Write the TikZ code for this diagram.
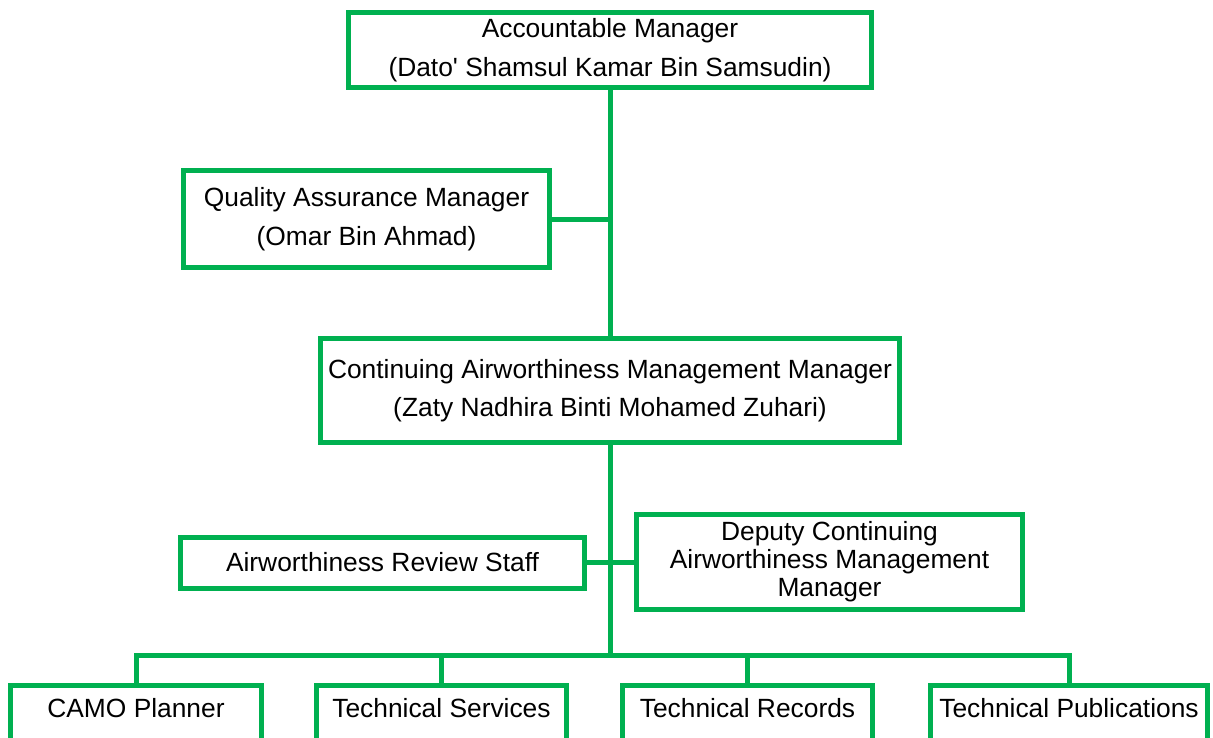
\documentclass[tikz,border=0pt]{standalone}
\usepackage{fontspec}
\setmainfont{Liberation Sans}
\definecolor{orggreen}{RGB}{0,176,80}
\tikzset{
    box/.style={draw=orggreen, line width=0.1cm, fill=white, align=center, inner sep=0.1cm, font=\fontsize{15}{18}\selectfont},
    link/.style={draw=orggreen, line width=0.1cm},
    unitbox/.style={box, anchor=north, text height=0.49cm, text depth=1cm, inner ysep=0.14cm}
}
\begin{document}
\begin{tikzpicture}[x=0.02cm, y=-0.02cm]
        \useasboundingbox (0,0) rectangle (1213,737);
        \clip (0,0) rectangle (1213,737);
        % management line
        \node[box, minimum width=10.48cm, minimum height=1.52cm] (acc) at (610,50) {Accountable Manager\\[0.14cm](Dato\textquotesingle{} Shamsul Kamar Bin Samsudin)};
        \node[box, minimum width=7.34cm, minimum height=1.96cm] (qam) at (366.5,219) {Quality Assurance Manager\\[0.14cm](Omar Bin Ahmad)};
        \node[box, minimum width=11.6cm, minimum height=2.1cm] (camm) at (610,390.5) {Continuing Airworthiness Management Manager\\[0.14cm](Zaty Nadhira Binti Mohamed Zuhari)};
        \node[box, minimum width=8.1cm, minimum height=1.02cm] (ars) at (382.5,562.5) {Airworthiness Review Staff};
        \node[box, minimum width=7.74cm, minimum height=1.92cm, font=\fontsize{15}{16}\selectfont] (dep) at (829.5,562) {Deputy Continuing\\Airworthiness Management\\Manager};
        % sections
        \node[unitbox, minimum width=5.04cm] (plan) at (136,683) {CAMO Planner};
        \node[unitbox, minimum width=5.02cm] (serv) at (441.5,683) {Technical Services};
        \node[unitbox, minimum width=5.02cm] (rec) at (747.5,683) {Technical Records};
        \node[unitbox, minimum width=5.56cm] (pub) at (1069,683) {Technical Publications};
        \coordinate (bus) at (610,655);
        \draw[link] (acc.south) -- (camm.north);
        \draw[link] (qam.east) -- (qam.east -| acc.south);
        \draw[link] (camm.south) -- (bus);
        \draw[link] (ars.east) -- (ars.east -| camm.south);
        \draw[link] (dep.west) -- (dep.west -| camm.south);
        \foreach \unit in {plan,serv,rec,pub}{
            \draw[link] (bus) -| (\unit.north);
        }
    \end{tikzpicture}
\end{document}
